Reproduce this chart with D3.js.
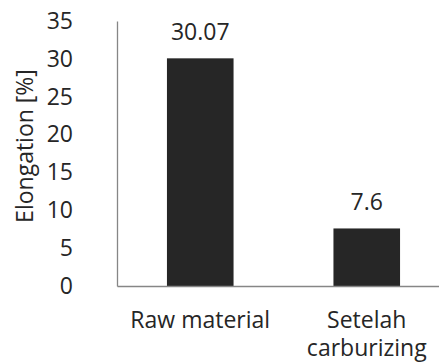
<!DOCTYPE html>
<html>
<head>
<meta charset="utf-8">
<script src="https://cdn.jsdelivr.net/npm/d3@7"></script>
<style>
  html, body { margin: 0; padding: 0; background: #fff; }
  svg { display: block; }
  text { font-family: "Open Sans", sans-serif; fill: #262626; }
</style>
</head>
<body>
<svg id="chart" width="439" height="364"></svg>
<script>
// Elongation of the specimen before and after carburizing
const categories = ["Raw material", "Setelah carburizing"];
const categoryLines = [["Raw material"], ["Setelah", "carburizing"]];
const elongation = [30.07, 7.6];
const valueLabels = ["30.07", "7.6"];
const yTicks = [0, 5, 10, 15, 20, 25, 30, 35];

const svg = d3.select("#chart");
const plot = { left: 117, right: 450, top: 21, bottom: 286 };
const fontSize = 23;

const x = d3.scaleBand()
  .domain(categories)
  .range([plot.left, plot.right])
  .paddingInner(0.6)
  .paddingOuter(0.3);

const y = d3.scaleLinear()
  .domain([0, 35])
  .range([plot.bottom, plot.top]);

// bars
svg.append("g").selectAll("rect")
  .data(elongation)
  .join("rect")
  .attr("x", (d, i) => x(categories[i]))
  .attr("width", x.bandwidth())
  .attr("y", d => y(d))
  .attr("height", d => y(0) - y(d))
  .attr("fill", "#262626");

// value labels above bars
svg.append("g").selectAll("text")
  .data(elongation)
  .join("text")
  .attr("x", (d, i) => x(categories[i]) + x.bandwidth() / 2)
  .attr("y", d => y(d) - 18)
  .attr("text-anchor", "middle")
  .attr("font-size", fontSize)
  .text((d, i) => valueLabels[i]);

// y axis
const yAxis = svg.append("g")
  .attr("transform", `translate(${plot.left},0)`)
  .call(d3.axisLeft(y).tickValues(yTicks).tickSize(0).tickPadding(44).tickFormat(d3.format("d")));
yAxis.select(".domain").attr("stroke", "#868686").attr("stroke-width", 1.3);
yAxis.selectAll("text")
  .attr("font-size", fontSize)
  .attr("fill", "#262626")
  .attr("font-family", "'Open Sans', sans-serif");

// x axis
const xAxis = svg.append("g")
  .attr("transform", `translate(0,${plot.bottom})`)
  .call(d3.axisBottom(x).tickSize(0).tickFormat(""));
xAxis.select(".domain").attr("stroke", "#868686").attr("stroke-width", 1.3);

// category labels (wrapped)
const catG = svg.append("g");
categories.forEach((c, i) => {
  const cx = x(c) + x.bandwidth() / 2;
  const t = catG.append("text")
    .attr("x", cx)
    .attr("y", 328)
    .attr("text-anchor", "middle")
    .attr("font-size", fontSize);
  categoryLines[i].forEach((line, j) => {
    t.append("tspan")
      .attr("x", cx)
      .attr("dy", j === 0 ? 0 : 27.5)
      .text(line);
  });
});

// y axis title
svg.append("text")
  .attr("transform", "translate(33,146) rotate(-90)")
  .attr("text-anchor", "middle")
  .attr("font-size", fontSize)
  .text("Elongation [%]");
</script>
</body>
</html>
